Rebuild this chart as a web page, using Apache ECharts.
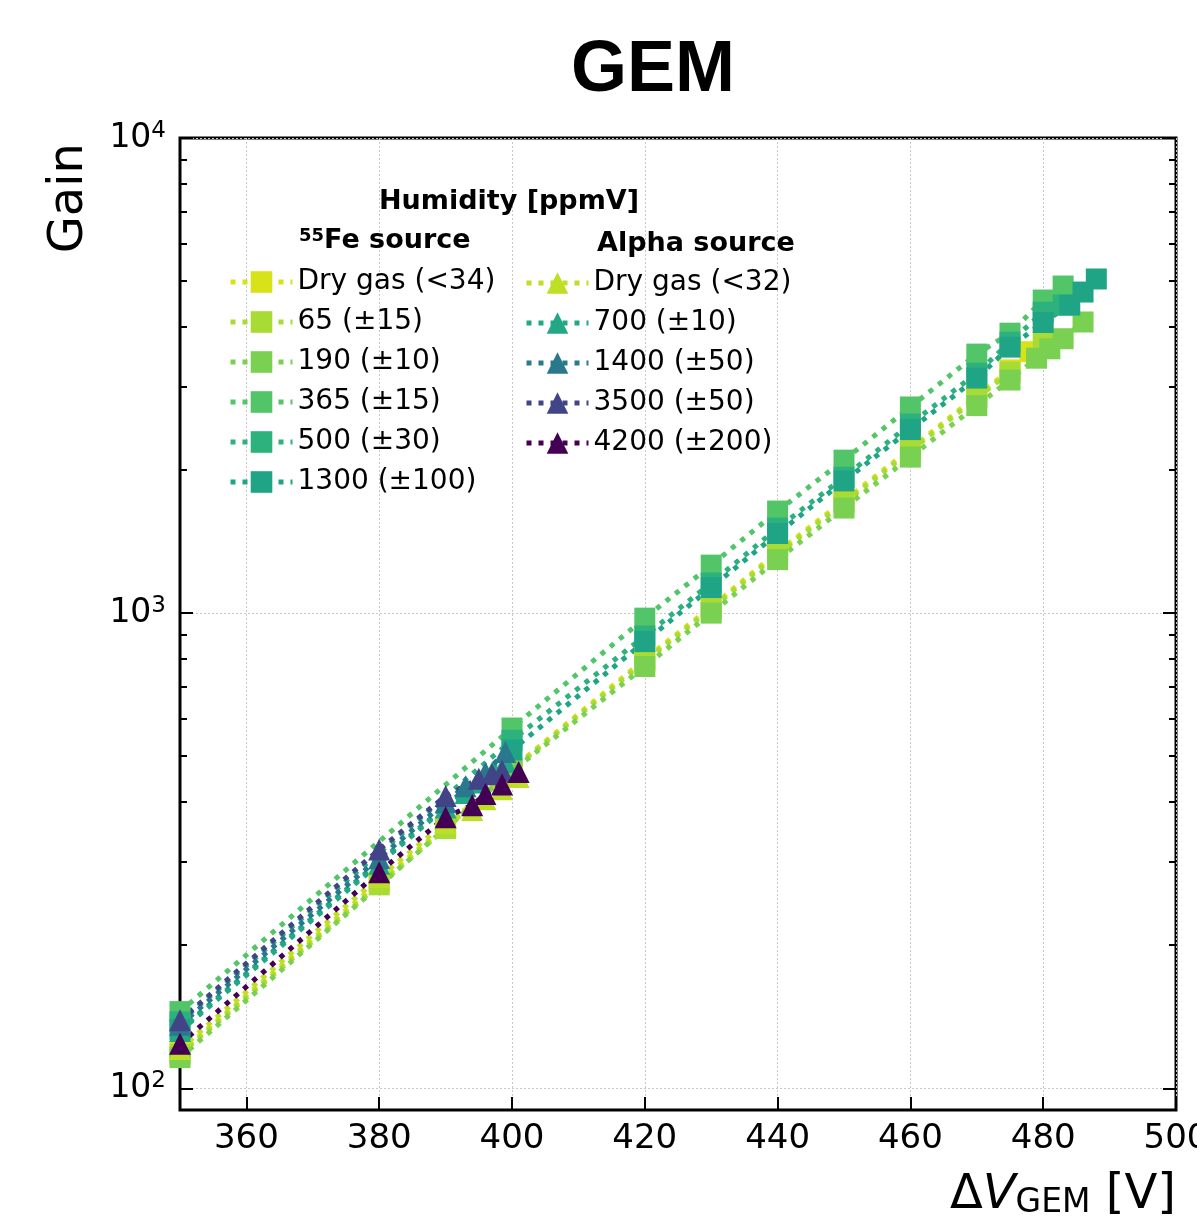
<html>
<head>
  <meta charset="UTF-8">
  <title>GEM gain vs humidity</title>
  <script src="https://cdn.jsdelivr.net/npm/echarts@6/dist/echarts.min.js"></script>
  <style>
    html, body { margin: 0; padding: 0; background: #fff; }
    #main { width: 1197px; height: 1224px; }
  </style>
</head>
<body>
<div id="main"></div>
<script>
    // 55Fe source (squares), gain vs Delta V_GEM
    var feDryV = [350, 380, 390, 400, 420, 430, 440, 450, 460, 470, 475, 478];
    var feDry  = [119, 272, 356, 470, 800, 1030, 1345, 1725, 2215, 2865, 3250, 3550];
    var fe65V  = [350, 380, 390, 400, 420, 430, 440, 450, 460, 470, 475, 480];
    var fe65   = [118, 268, 352, 468, 792, 1022, 1333, 1708, 2195, 2840, 3215, 3720];
    var fe190V = [350, 400, 420, 430, 440, 450, 460, 470, 475, 479, 481, 483, 486];
    var fe190  = [116, 465, 772, 1000, 1296, 1664, 2130, 2734, 3095, 3440, 3600, 3780, 4100];
    var fe365V = [350, 400, 420, 430, 440, 450, 460, 470, 475, 480, 483];
    var fe365  = [145, 573, 976, 1262, 1640, 2099, 2716, 3509, 3883, 4560, 4880];
    var fe500V = [350, 400, 420, 430, 440, 450, 460, 470, 475, 480, 483];
    var fe500  = [138, 540, 895, 1157, 1510, 1932, 2500, 3200, 3720, 4300, 4450];
    var fe1300V = [350, 400, 420, 430, 440, 450, 460, 470, 475, 480, 484, 486, 488];
    var fe1300  = [133, 515, 871, 1132, 1471, 1897, 2433, 3124, 3630, 4090, 4450, 4740, 5050];

    // alpha source (triangles)
    var alDryV = [350, 380, 390, 394, 396, 398.5, 401];
    var alDry  = [121, 278, 362, 385, 406, 426, 452];
    var al700V = [350, 380, 390, 393, 395, 397, 399];
    var al700  = [132, 297, 390, 418, 440, 462, 486];
    var al1400V = [350, 380, 390, 393, 396, 399];
    var al1400  = [136, 305, 400, 432, 462, 510];
    var al3500V = [350, 380, 390, 395, 397, 398.5];
    var al3500  = [139, 318, 412, 448, 458, 466];
    var al4200V = [350, 380, 390, 394, 396, 398.5, 401];
    var al4200  = [124, 285, 372, 394, 416, 436, 463];

    var xTicks = [360, 380, 400, 420, 440, 460, 480, 500];
    var yMajor = [100, 1000, 10000];
    var yMinor = [200, 300, 400, 500, 600, 700, 800, 900, 2000, 3000, 4000, 5000, 6000, 7000, 8000, 9000];

    var FONT = 'DejaVu Sans';
    var DASH = [5, 7];

    function pairs(xs, ys) {
        return xs.map(function (x, i) { return [x, ys[i]]; });
    }

    function mk(name, color, sym, xs, ys) {
        return {
            name: name,
            type: 'line',
            data: pairs(xs, ys),
            symbol: sym,
            symbolSize: sym == 'rect' ? 21 : 22,
            showSymbol: true,
            itemStyle: { color: color },
            lineStyle: { color: color, width: 5, type: DASH },
            emphasis: { disabled: true }
        };
    }

    var series = [
        mk('Dry gas (<34)', '#d8e219', 'rect', feDryV, feDry),
        mk('65 (±15)', '#a8db34', 'rect', fe65V, fe65),
        mk('190 (±10)', '#7ad151', 'rect', fe190V, fe190),
        mk('365 (±15)', '#52c569', 'rect', fe365V, fe365),
        mk('500 (±30)', '#2db27d', 'rect', fe500V, fe500),
        mk('1300 (±100)', '#20a486', 'rect', fe1300V, fe1300),
        mk('Dry gas (<32)', '#bddf26', 'triangle', alDryV, alDry),
        mk('700 (±10)', '#22a884', 'triangle', al700V, al700),
        mk('1400 (±50)', '#2a788e', 'triangle', al1400V, al1400),
        mk('3500 (±50)', '#414487', 'triangle', al3500V, al3500),
        mk('4200 (±200)', '#440154', 'triangle', al4200V, al4200)
    ];

    function sup(v) {
        var e = Math.round(Math.log(v) / Math.LN10);
        return '{b|10}{e|' + e + '}';
    }

    var yBase = {
        type: 'log',
        logBase: 10,
        min: 90,
        max: 10000,
        offset: 0,
        axisLine: { show: false },
        axisLabel: { show: false },
        splitLine: { show: false },
        minorTick: { show: false }
    };

    function yAx(pos, vals, len, labels) {
        var a = echarts.util.merge({}, yBase, true);
        a.position = pos;
        a.axisTick = { show: true, inside: true, length: len, customValues: vals,
                       lineStyle: { color: '#000', width: 2 } };
        if (labels) {
            a.axisLabel = {
                show: true, customValues: yMajor, margin: 14,
                formatter: sup,
                rich: {
                    b: { fontFamily: FONT, fontSize: 33, color: '#000' },
                    e: { fontFamily: FONT, fontSize: 23, color: '#000', verticalAlign: 'top', padding: [0, 0, 14, 0] }
                }
            };
            a.splitLine = { show: true, lineStyle: { color: '#c8c8c8', width: 1, type: [2, 2] } };
            a.name = 'Gain';
            a.nameLocation = 'end';
            a.nameRotate = 90;
            a.nameGap = -5;
            a.nameTextStyle = { fontFamily: FONT, fontSize: 48, color: '#000',
                                align: 'right', verticalAlign: 'bottom', padding: [0, 0, 86, 0] };
        }
        return a;
    }

    var legendBase = {
        orient: 'vertical', padding: 0,
        itemWidth: 62, itemHeight: 27, itemGap: 10,
        selectedMode: false,
        lineStyle: { width: 5, type: DASH },
        textStyle: { fontFamily: FONT, fontSize: 28, color: '#000', lineHeight: 30 }
    };

    var myChart = echarts.init(document.getElementById('main'), null, { renderer: 'canvas' });

    var option = {
        animation: false,
        backgroundColor: '#fff',
        title: [
            { text: 'GEM', left: 566, top: 30,
              textStyle: { fontFamily: 'Liberation Sans', fontWeight: 'bold', fontSize: 72, color: '#000' } },
            { text: 'Humidity [ppmV]', left: 374, top: 183,
              textStyle: { fontFamily: FONT, fontWeight: 'bold', fontSize: 27, color: '#000' } },
            { text: '{s|55}{t|Fe source}', left: 294, top: 222,
              textStyle: { rich: {
                  s: { fontFamily: FONT, fontWeight: 'bold', fontSize: 18, color: '#000', verticalAlign: 'top' },
                  t: { fontFamily: FONT, fontWeight: 'bold', fontSize: 27, color: '#000' } } } },
            { text: 'Alpha source', left: 592, top: 225,
              textStyle: { fontFamily: FONT, fontWeight: 'bold', fontSize: 27, color: '#000' } }
        ],
        legend: [
            echarts.util.extend({
                data: ['Dry gas (<34)', '65 (±15)', '190 (±10)', '365 (±15)', '500 (±30)', '1300 (±100)'],
                left: 228, top: 267
            }, legendBase),
            echarts.util.extend({
                data: ['Dry gas (<32)', '700 (±10)', '1400 (±50)', '3500 (±50)', '4200 (±200)'],
                left: 524, top: 268
            }, legendBase)
        ],
        grid: {
            left: 180, right: 21, top: 138, bottom: 114,
            outerBoundsMode: 'none',
            containLabel: false,
            show: true, borderColor: '#000', borderWidth: 3
        },
        xAxis: {
            type: 'value',
            min: 350,
            max: 500,
            axisLine: { show: false },
            axisTick: { show: true, inside: true, length: 13, customValues: xTicks,
                        lineStyle: { color: '#000', width: 2 } },
            axisLabel: { customValues: xTicks, margin: 12, fontFamily: FONT, fontSize: 34, color: '#000' },
            splitLine: { show: true, lineStyle: { color: '#c8c8c8', width: 1, type: [2, 2] } },
            name: '{a|Δ}{i|V}{s|GEM}{a| [V]}',
            nameLocation: 'end',
            nameGap: 0,
            nameTextStyle: {
                align: 'right', verticalAlign: 'top', padding: [62, 0, 0, 0],
                rich: {
                    a: { fontFamily: FONT, fontSize: 48, color: '#000' },
                    i: { fontFamily: FONT, fontSize: 48, fontStyle: 'italic', color: '#000' },
                    s: { fontFamily: FONT, fontSize: 33, color: '#000', verticalAlign: 'bottom', padding: [14, 0, 0, 0] }
                }
            }
        },
        yAxis: [
            yAx('left', yMajor, 13, true),
            yAx('left', yMinor, 7, false),
            yAx('right', yMajor, 13, false),
            yAx('right', yMinor, 7, false)
        ],
        series: series
    };

    myChart.setOption(option);
</script>
</body>
</html>
